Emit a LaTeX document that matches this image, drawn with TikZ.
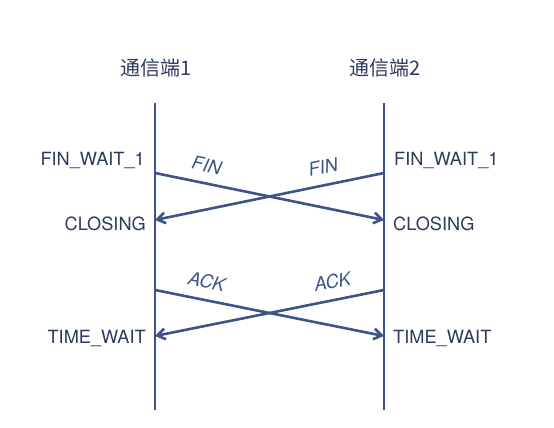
\documentclass[tikz,border=0pt]{standalone}
\usepackage{fontspec}
\setmainfont{TeX Gyre Heros}
\newfontfamily\cjkfont{Noto Sans CJK SC}
\usepackage{tikz}
\usetikzlibrary{positioning,arrows.meta}
\usepackage{xcolor}
\definecolor{seqblue}{RGB}{62,84,136}
\definecolor{seqtext}{RGB}{44,58,92}

\begin{document}
\begin{tikzpicture}[
  x=1pt, y=-1pt,
  head/.style={font=\cjkfont\fontsize{20}{24}\selectfont, text=seqtext, inner sep=0pt},
  state/.style={font=\fontsize{18.2}{21}\selectfont, text=seqtext, inner sep=0pt},
  msg/.style={font=\itshape\fontsize{18.5}{21}\selectfont, text=seqblue, inner sep=0pt, sloped, above=10pt},
  life/.style={draw=seqblue, line width=2.6pt},
  arr/.style={draw=seqblue, line width=2.6pt, -{Straight Barb[length=2.8mm,width=3.8mm]}},
  node distance=9pt
]
  \useasboundingbox (0,0) rectangle (554,428);
  % lifelines
  \node[head] (h1) at (156,68) {通信端1};
  \node[head] (h2) at (385,68) {通信端2};
  \coordinate (top1) at (155,103);  \coordinate (bot1) at (155,410);
  \coordinate (top2) at (384,103);  \coordinate (bot2) at (384,410);
  \draw[life] (top1) -- (bot1);
  \draw[life] (top2) -- (bot2);
  % message points
  \coordinate (fs1) at (155,173);  \coordinate (fe1) at (155,220);
  \coordinate (fs2) at (384,173);  \coordinate (fe2) at (384,220);
  \coordinate (as1) at (155,290);  \coordinate (ae1) at (155,336);
  \coordinate (as2) at (384,290);  \coordinate (ae2) at (384,336);
  % states
  \node[state, anchor=east] (w1) at (145,160) {FIN\_WAIT\_1};
  \node[state, anchor=west] (w2) at (394,160) {FIN\_WAIT\_1};
  \node[state, left=of fe1, yshift=-4pt]  (c1) {CLOSING};
  \node[state, right=of fe2, yshift=-4pt] (c2) {CLOSING};
  \node[state, left=of ae1, yshift=-2pt]  (t1) {TIME\_WAIT};
  \node[state, right=of ae2, yshift=-2pt] (t2) {TIME\_WAIT};
  % messages
  \draw[arr] (fs1) -- node[msg, pos=0.21] (m1) {FIN} (fe2);
  \draw[arr] (fs2) -- node[msg, pos=0.25] (m2) {FIN} (fe1);
  \draw[arr] (as1) -- node[msg, pos=0.21] (m3) {ACK} (ae2);
  \draw[arr] (as2) -- node[msg, pos=0.21] (m4) {ACK} (ae1);
\end{tikzpicture}
\end{document}
